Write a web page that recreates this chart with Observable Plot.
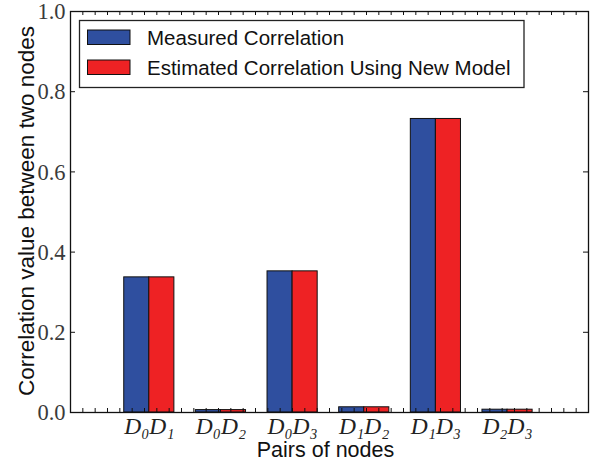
<!DOCTYPE html>
<html>
<head>
<meta charset="utf-8">
<script src="https://cdn.jsdelivr.net/npm/d3@7"></script>
<script src="https://cdn.jsdelivr.net/npm/@observablehq/plot@0.6"></script>
<style>
  html, body { margin: 0; padding: 0; background: #fff; }
  #chart { width: 597px; height: 461px; }
</style>
</head>
<body>
<div id="chart"></div>
<script>
// Node pairs and their correlation values
const pairs = ["D₀D₁", "D₀D₂", "D₀D₃", "D₁D₂", "D₁D₃", "D₂D₃"];
const measured = [0.337, 0.006, 0.352, 0.013, 0.732, 0.007];
const estimated = [0.337, 0.006, 0.352, 0.013, 0.732, 0.007];
const seriesNames = ["Measured Correlation", "Estimated Correlation Using New Model"];
const seriesColors = ["#2f4f9f", "#ee2224"];
const yTicks = [0, 0.2, 0.4, 0.6, 0.8, 1.0];

// Layout
const W = 597, H = 461;
const mL = 70, mR = 9, mT = 11, mB = 49;
const plotW = W - mL - mR, plotH = H - mT - mB;
const xDomain = [-1.1, 6.13];
const xSpan = xDomain[1] - xDomain[0];
const barW = 0.35;

// One rect per bar: measured to the left of the group centre, estimated to the right
const bars = [];
pairs.forEach((p, i) => {
  bars.push({pair: p, series: 0, x1: i - barW, x2: i, value: measured[i]});
  bars.push({pair: p, series: 1, x1: i, x2: i + barW, value: estimated[i]});
});

// Minor ticks along the top and bottom spines (42 equal steps)
const xMinor = d3.range(1, 42).map(k => xDomain[0] + k * xSpan / 42);
const xTickLen = 4 / plotH;            // 4 px in y units
const yTickLen = 5 * xSpan / plotW;    // 5 px in x units

const serif = "'Liberation Serif', 'DejaVu Serif', serif";
const sans = "'Liberation Sans', Arial, Helvetica, sans-serif";

const chart = Plot.plot({
  width: W,
  height: H,
  marginLeft: mL,
  marginRight: mR,
  marginTop: mT,
  marginBottom: mB,
  style: {background: "#fff", overflow: "visible"},
  x: {domain: xDomain, axis: null},
  y: {domain: [0, 1], axis: null},
  marks: [
    Plot.rect(bars, {
      x1: "x1", x2: "x2", y1: 0, y2: "value",
      fill: d => seriesColors[d.series],
      stroke: "#111", strokeWidth: 1
    }),
    // inward ticks: bottom and top minor ticks
    Plot.ruleX(xMinor, {x: d => d, y1: 0, y2: xTickLen, stroke: "#111", strokeWidth: 1}),
    Plot.ruleX(xMinor, {x: d => d, y1: 1 - xTickLen, y2: 1, stroke: "#111", strokeWidth: 1}),
    // inward ticks: left and right major ticks
    Plot.ruleY(yTicks, {y: d => d, x1: xDomain[0], x2: xDomain[0] + yTickLen, stroke: "#111", strokeWidth: 1}),
    Plot.ruleY(yTicks, {y: d => d, x1: xDomain[1] - yTickLen, x2: xDomain[1], stroke: "#111", strokeWidth: 1}),
    Plot.frame({stroke: "#111", strokeWidth: 1.3}),
    // y tick labels
    Plot.text(yTicks, {
      x: xDomain[0], y: d => d, text: d => d.toFixed(1),
      textAnchor: "end", dx: -5, dy: 0.5, fontFamily: serif, fontSize: 22.5, fill: "#3a3a3a"
    }),
    // x tick labels at group centres
    Plot.text(pairs, {
      x: (d, i) => i, y: 0, text: d => d,
      lineAnchor: "bottom", dy: 21, fontFamily: serif, fontStyle: "italic",
      fontSize: 23.5, fill: "#222"
    }),
    // axis titles
    Plot.text(["Pairs of nodes"], {
      frameAnchor: "bottom", textAnchor: "middle", lineAnchor: "bottom", dy: 44.5, dx: -4,
      fontFamily: sans, fontSize: 21.5, fill: "#111"
    }),
    Plot.text(["Correlation value between two nodes"], {
      frameAnchor: "left", textAnchor: "middle", lineAnchor: "bottom", rotate: -90, dx: -37, dy: -1,
      fontFamily: sans, fontSize: 22.5, fill: "#111"
    })
  ]
});

// Legend box in the upper-left corner of the plot area
const svg = d3.select(chart);
const lg = svg.append("g").attr("class", "legend").attr("text-anchor", "start");
lg.append("rect")
  .attr("x", 79.5).attr("y", 20.5).attr("width", 444.5).attr("height", 67)
  .attr("fill", "#fff").attr("stroke", "#222").attr("stroke-width", 1.3);
seriesNames.forEach((name, k) => {
  const y0 = 30 + k * 30;
  lg.append("rect")
    .attr("x", 87.5).attr("y", y0).attr("width", 42.5).attr("height", 14.5)
    .attr("fill", seriesColors[k]).attr("stroke", "#111").attr("stroke-width", 1);
  lg.append("text")
    .attr("x", 147).attr("y", y0 + 15)
    .attr("text-anchor", "start")
    .attr("font-family", sans).attr("font-size", 20.5).attr("fill", "#111")
    .text(name);
});

document.getElementById("chart").appendChild(chart);
</script>
</body>
</html>
